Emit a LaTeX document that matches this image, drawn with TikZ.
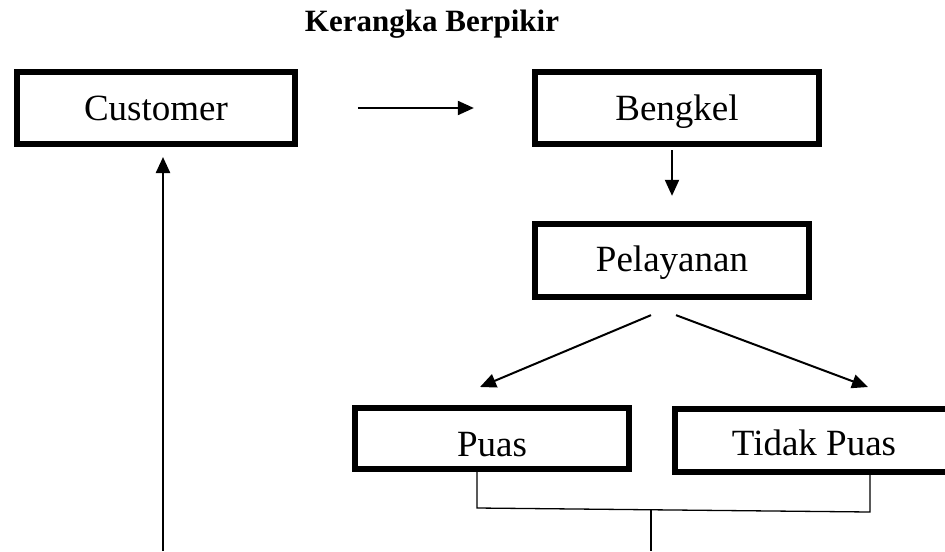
\documentclass[tikz,border=0pt]{standalone}
\usepackage{fontspec}
\setmainfont{Liberation Serif}
\usetikzlibrary{positioning,arrows.meta}

\tikzset{
  kotak/.style={draw, line width=3.2pt, inner sep=0pt,
    font=\fontsize{18.5}{20}\selectfont, text height=12pt, text depth=0pt},
  panah/.style={-{Triangle[length=8pt,width=7pt]}, line width=1pt},
  garis/.style={line width=0.65pt},
}

\begin{document}
\begin{tikzpicture}[x=0.5pt,y=-0.5pt]
\useasboundingbox (0,0) rectangle (945,551);

%% judul
\node[font=\fontsize{15.5}{18}\selectfont\bfseries, anchor=base] (judul) at (432,32) {Kerangka Berpikir};

%% kotak
\node[kotak, minimum width=138.75pt, minimum height=35.75pt] (customer) at (156,108) {Customer};
\node[kotak, minimum width=141.75pt, minimum height=35.75pt] (bengkel) at (677,108) {Bengkel};
\node[kotak, minimum width=136.75pt, minimum height=36.25pt, text height=11pt] (pelayanan) at (672,260.5) {Pelayanan};
\node[kotak, minimum width=136.75pt, minimum height=30.25pt, text height=17.5pt] (puas) at (492,438.5) {Puas};
\node[kotak, minimum width=138.75pt, minimum height=31.25pt, text height=14.5pt] (tidakpuas) at (814,440.5) {Tidak Puas};

%% titik bantu
\coordinate (kiri) at (480,387);
\coordinate (kanan) at (868,387);
\coordinate (bl) at (477,508);
\coordinate (br) at (870,512);
\coordinate (bj) at (651,510);
\coordinate (bm) at (651,551);
\coordinate (fb) at (163,551);
\coordinate (ft) at (163,157);

%% panah
\draw[panah, shorten <=30pt, shorten >=29.1pt] (customer.east) -- (bengkel.west);
\draw[panah, shorten <=1.6pt, shorten >=12.6pt] (bengkel.south -| pelayanan) -- (pelayanan.north);
\draw[panah] ([xshift=-10.5pt,yshift=-7.6pt]pelayanan.south) -- (kiri);
\draw[panah] ([xshift=2pt,yshift=-7.6pt]pelayanan.south) -- (kanan);
\draw[panah, line width=1.2pt] (fb) -- (ft);

%% kurung bawah
\draw[garis] (puas.south -| bl) -- (bl) -- (br) -- (tidakpuas.south -| br);
\draw[garis] (bj) -- (bm);

\end{tikzpicture}
\end{document}
